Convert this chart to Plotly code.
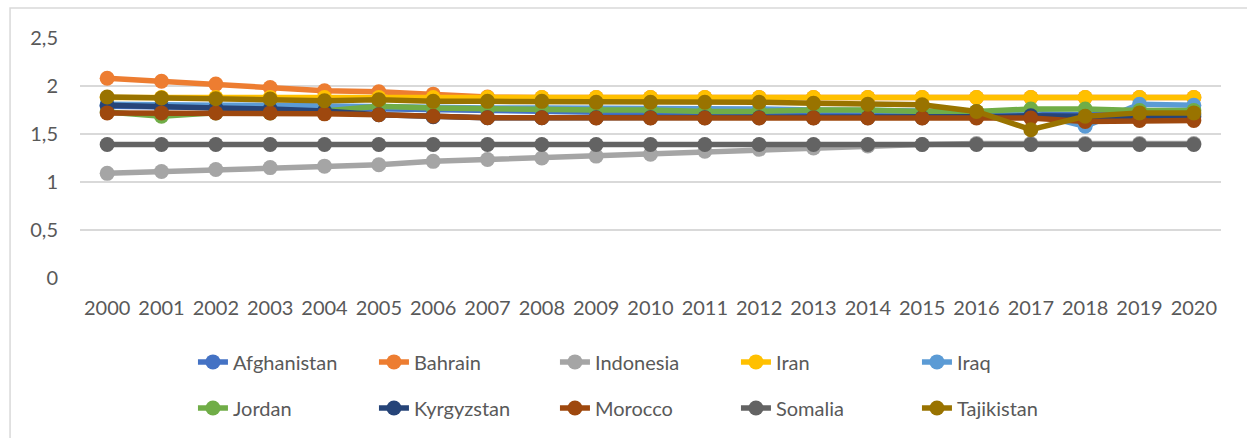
import plotly.graph_objects as go

years = list(range(2000, 2021))

afghanistan = [1.79, 1.78, 1.78, 1.77, 1.77, 1.76, 1.75, 1.75, 1.74, 1.73, 1.72,
               1.72, 1.72, 1.72, 1.72, 1.71, 1.71, 1.71, 1.70, 1.70, 1.70]
bahrain = [2.08, 2.05, 2.02, 1.985, 1.95, 1.94, 1.915, 1.885, 1.88, 1.88, 1.88,
           1.88, 1.88, 1.88, 1.88, 1.88, 1.88, 1.88, 1.88, 1.88, 1.88]
indonesia = [1.09, 1.11, 1.13, 1.15, 1.165, 1.18, 1.215, 1.234, 1.25, 1.27, 1.29,
             1.32, 1.34, 1.355, 1.375, 1.39, 1.40, 1.40, 1.40, 1.40, 1.40]
iran = [1.88] * 21
iraq = [1.81, 1.80, 1.80, 1.80, 1.79, 1.78, 1.77, 1.77, 1.77, 1.77, 1.76,
        1.76, 1.76, 1.75, 1.75, 1.74, 1.73, 1.72, 1.58, 1.81, 1.80]
jordan = [1.73, 1.685, 1.72, 1.72, 1.74, 1.79, 1.77, 1.76, 1.76, 1.75, 1.75,
          1.735, 1.735, 1.75, 1.75, 1.735, 1.735, 1.76, 1.76, 1.745, 1.745]
kyrgyzstan = [1.80, 1.78, 1.77, 1.76, 1.74, 1.70, 1.68, 1.67, 1.67, 1.67, 1.67,
              1.67, 1.67, 1.67, 1.67, 1.67, 1.68, 1.69, 1.68, 1.68, 1.68]
morocco = [1.72, 1.72, 1.72, 1.72, 1.71, 1.70, 1.685, 1.67, 1.67, 1.667, 1.667,
           1.667, 1.667, 1.667, 1.667, 1.667, 1.667, 1.667, 1.63, 1.64, 1.64]
somalia = [1.39] * 21
tajikistan = [1.885, 1.875, 1.867, 1.864, 1.846, 1.857, 1.84, 1.84, 1.84, 1.83, 1.83,
              1.83, 1.83, 1.82, 1.81, 1.805, 1.735, 1.545, 1.685, 1.72, 1.72]

y_ticks = [0, 0.5, 1, 1.5, 2, 2.5]

series = [
    ("Afghanistan", afghanistan, "#4472C4", "legend"),
    ("Bahrain", bahrain, "#ED7D31", "legend"),
    ("Indonesia", indonesia, "#A5A5A5", "legend"),
    ("Iran", iran, "#FFC000", "legend"),
    ("Iraq", iraq, "#5B9BD5", "legend"),
    ("Jordan", jordan, "#70AD47", "legend2"),
    ("Kyrgyzstan", kyrgyzstan, "#264478", "legend2"),
    ("Morocco", morocco, "#9E480E", "legend2"),
    ("Somalia", somalia, "#636363", "legend2"),
    ("Tajikistan", tajikistan, "#997300", "legend2"),
]

FONT = "Lato, 'Liberation Sans', sans-serif"
TEXT = "#595959"
GRID = "#D9D9D9"

fig = go.Figure()
for name, vals, color, lg in series:
    fig.add_trace(go.Scatter(
        x=years, y=vals, name=name, mode="lines+markers",
        line=dict(color=color, width=5.5),
        marker=dict(color=color, size=15),
        legend=lg,
    ))

legend_common = dict(
    orientation="h", xanchor="left", yanchor="middle",
    entrywidth=136, entrywidthmode="pixels",
    font=dict(family=FONT, size=20, color=TEXT),
    bgcolor="rgba(0,0,0,0)", itemclick=False, itemdoubleclick=False,
)

fig.update_layout(
    width=1247, height=438,
    margin=dict(l=80, r=26, t=38, b=159),
    paper_bgcolor="white", plot_bgcolor="white",
    separators=", ",
    font=dict(family=FONT, size=20, color=TEXT),
    showlegend=True,
    legend=dict(x=0.099, y=-0.344, **legend_common),
    legend2=dict(x=0.099, y=-0.535, **legend_common),
    xaxis=dict(
        range=[1999.5, 2020.5], tickmode="array", tickvals=years,
        ticktext=[str(y) for y in years], showgrid=False, zeroline=False,
        showline=False, ticks="", ticklabelstandoff=16,
        tickfont=dict(family=FONT, size=20, color=TEXT), fixedrange=True,
    ),
    yaxis=dict(
        range=[0, 2.5], tickmode="array", tickvals=y_ticks,
        showgrid=True, gridcolor=GRID, gridwidth=1.5, zeroline=False,
        showline=False, ticks="", ticklabelstandoff=21,
        tickfont=dict(family=FONT, size=20, color=TEXT), fixedrange=True,
    ),
    shapes=[dict(
        type="rect", xref="paper", yref="paper",
        x0=-0.0613, x1=1.2, y0=-1.0, y1=1.1245,
        line=dict(color=GRID, width=1.5), fillcolor="rgba(0,0,0,0)", layer="below",
    )],
)

fig.write_html("out.html")
